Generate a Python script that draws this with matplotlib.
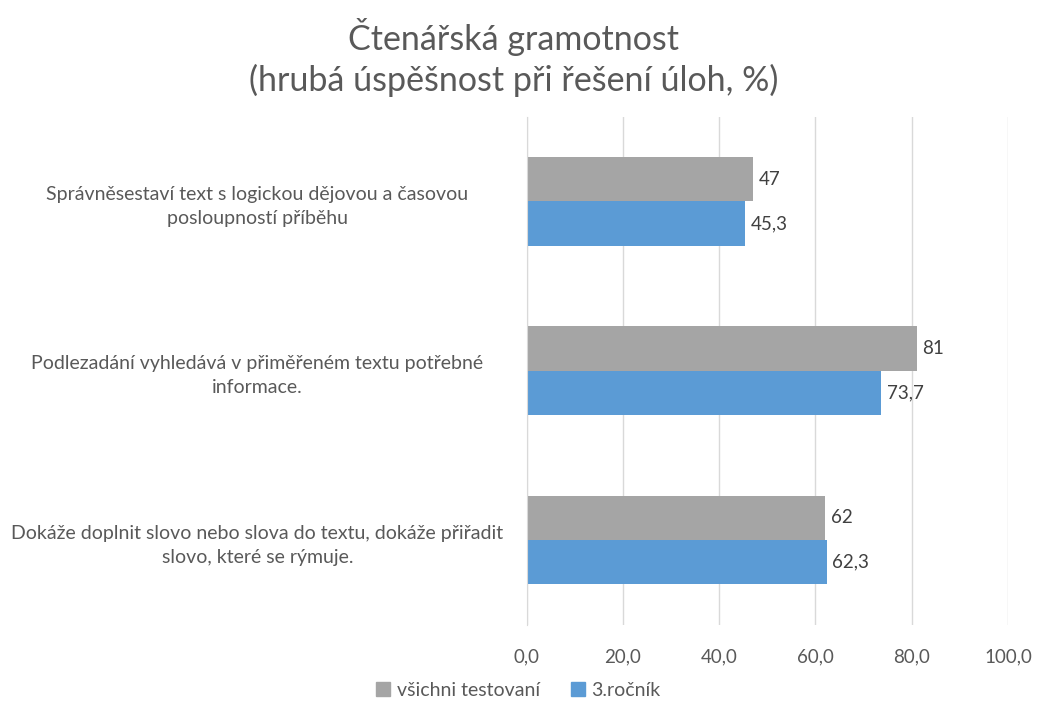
import matplotlib
matplotlib.use("Agg")
import matplotlib.pyplot as plt
import numpy as np
from matplotlib.patches import Patch

plt.rcParams['font.family'] = ['Lato', 'DejaVu Sans']

categories = [
    "Správněsestaví text s logickou dějovou a časovou\nposloupností příběhu",
    "Podlezadání vyhledává v přiměřeném textu potřebné\ninformace.",
    "Dokáže doplnit slovo nebo slova do textu, dokáže přiřadit\nslovo, které se rýmuje.",
]
series_names = ["všichni testovaní", "3.ročník"]
vsichni = [47, 81, 62]
rocnik3 = [45.3, 73.7, 62.3]
labels_vsichni = ["47", "81", "62"]
labels_rocnik3 = ["45,3", "73,7", "62,3"]
xticks = [0, 20, 40, 60, 80, 100]
xtick_labels = ["0,0", "20,0", "40,0", "60,0", "80,0", "100,0"]

gray = "#A5A5A5"
blue = "#5B9BD5"
text_col = "#595959"

fig = plt.figure(figsize=(10.37, 7.02), dpi=100)
ax = fig.add_axes([0.508, 0.110, 0.464, 0.724])

y = np.arange(len(categories))
h = 0.262
ax.barh(y - h / 2, vsichni, height=h, color=gray, zorder=3)
ax.barh(y + h / 2, rocnik3, height=h, color=blue, zorder=3)

for yi, v, lab in zip(y, vsichni, labels_vsichni):
    ax.text(v + 1.2, yi - h / 2, lab, va="center", ha="left", fontsize=13.5, color="#404040")
for yi, v, lab in zip(y, rocnik3, labels_rocnik3):
    ax.text(v + 1.2, yi + h / 2, lab, va="center", ha="left", fontsize=13.5, color="#404040")

ax.set_xlim(0, 100)
ax.set_ylim(2.5, -0.5)
ax.set_xticks(xticks)
ax.set_xticklabels(xtick_labels, fontsize=13.5, color=text_col)
ax.set_yticks(y)
ax.set_yticklabels(categories, fontsize=14, color=text_col, ha="center", linespacing=1.5)
ax.tick_params(axis="y", length=0, pad=194)
ax.tick_params(axis="x", length=0, pad=17)
ax.grid(axis="x", color="#D9D9D9", linewidth=1, zorder=0)
for s in ["top", "right", "bottom"]:
    ax.spines[s].set_visible(False)
ax.spines["left"].set_color("#D9D9D9")
ax.spines["left"].set_zorder(4)

fig.text(0.495, 0.948, "Čtenářská gramotnost", ha="center", va="center", fontsize=24.5, color=text_col)
fig.text(0.495, 0.885, "(hrubá úspěšnost při řešení úloh, %)", ha="center", va="center", fontsize=24.5, color=text_col)

handles = [Patch(color=gray), Patch(color=blue)]
fig.legend(handles, series_names, loc="center", bbox_to_anchor=(0.5, 0.017), ncol=2,
           frameon=False, fontsize=14, labelcolor=text_col, handlelength=0.7, handleheight=0.7,
           handletextpad=0.35, columnspacing=1.6)

fig.savefig("out.png", dpi=100)
